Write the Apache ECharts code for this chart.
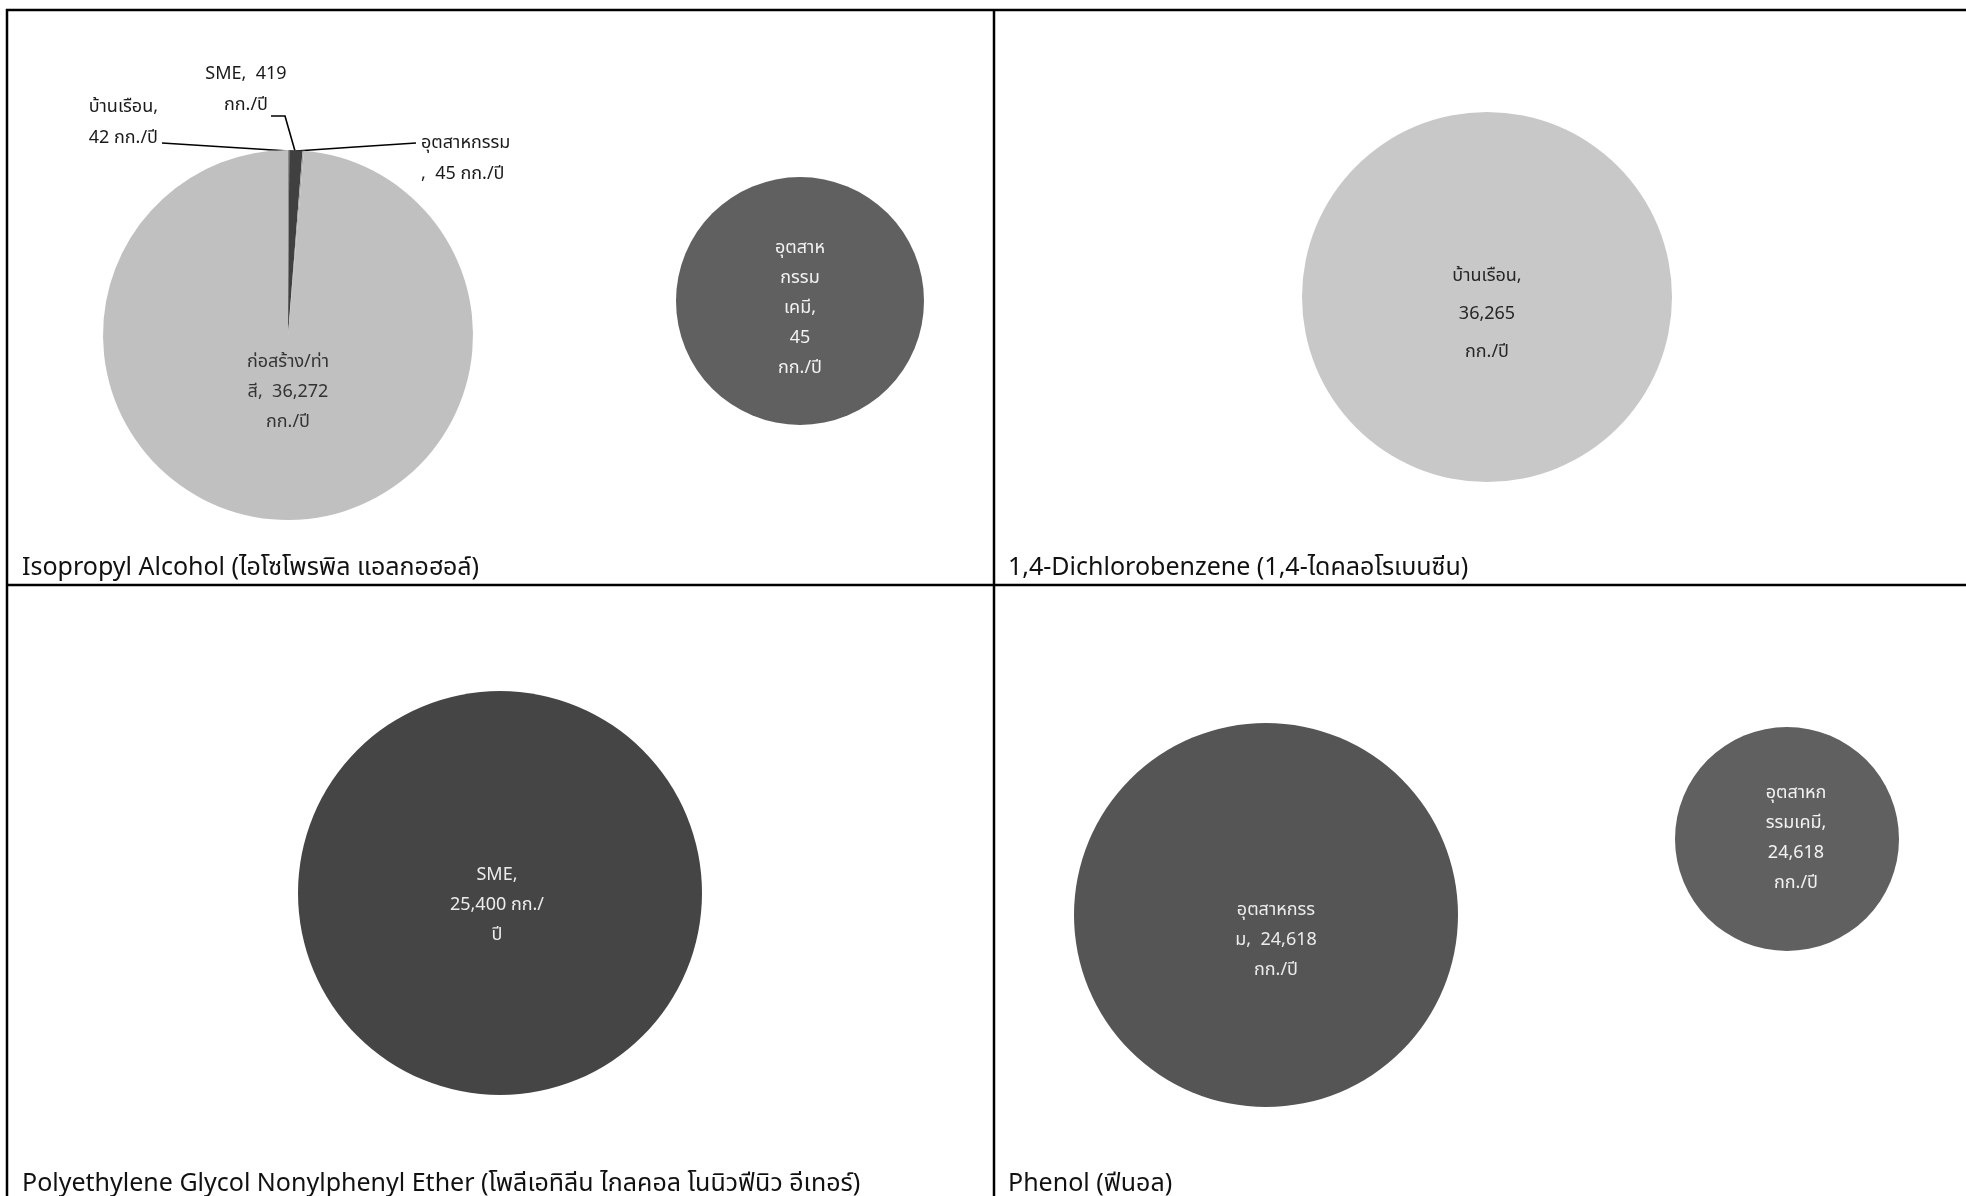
<!DOCTYPE html>
<html>
<head>
<meta charset="utf-8">
<script src="https://cdn.jsdelivr.net/npm/echarts@6/dist/echarts.min.js"></script>
<style>
html,body{margin:0;padding:0;background:#fff;}
#chart{width:1966px;height:1196px;}
</style>
</head>
<body>
<div id="chart"></div>
<script>
// ---- data ----
const panelTitles = [
  'Isopropyl Alcohol (ไอโซโพรพิล แอลกอฮอล์)',
  '1,4-Dichlorobenzene (1,4-ไดคลอโรเบนซีน)',
  'Polyethylene Glycol Nonylphenyl Ether (โพลีเอทิลีน ไกลคอล โนนิวฟีนิว อีเทอร์)',
  'Phenol (ฟีนอล)'
];
const ipaCategories = ['บ้านเรือน', 'SME', 'อุตสาหกรรม', 'ก่อสร้าง/ท่าสี'];
const ipaValues = [42, 419, 45, 36272];
const ipaChemCategories = ['อุตสาหกรรมเคมี'];
const ipaChemValues = [45];
const dcbCategories = ['บ้านเรือน'];
const dcbValues = [36265];
const pegCategories = ['SME'];
const pegValues = [25400];
const phenolCategories = ['อุตสาหกรรม'];
const phenolValues = [24618];
const phenolChemCategories = ['อุตสาหกรรมเคมี'];
const phenolChemValues = [24618];
const unit = 'กก./ปี';

// ---- helpers ----
const FONT = '"Noto Sans Thai", "Noto Sans", Loma, Garuda, "Tlwg Typo", Sarabun, "DejaVu Sans", sans-serif';
const fmt = v => v.toLocaleString('en-US');
const pieBase = {
  type: 'pie', silent: true, animation: false, avoidLabelOverlap: false,
  emphasis: { disabled: true }, itemStyle: { borderWidth: 0 },
  labelLine: { show: false }
};

const ipaColors = ['#8c8c8c', '#404040', '#a6a6a6', '#c0c0c0'];
const ipaFormatters = [
  p => p.name + ',\n' + fmt(p.value) + ' ' + unit,
  p => p.name + ',  ' + fmt(p.value) + '\n' + unit,
  p => p.name + '\n,  ' + fmt(p.value) + ' ' + unit,
  p => p.name.slice(0, 12) + '\n' + p.name.slice(12) + ',  ' + fmt(p.value) + '\n' + unit
];
// label anchors for the first pie (layout only)
const ipaLabelLayout = [
  { x: 158, y: 124, align: 'right', pts: [[289, 151], [225, 147], [162, 143]] },
  { x: 246, y: 91, align: 'center', pts: [[295, 151], [285, 116], [271, 116]] },
  { x: 421, y: 160, align: 'left', pts: [[296, 151], [355, 147], [416, 143]] },
  { x: 288, y: 393, align: 'center', pts: null }
];

const option = {
  backgroundColor: '#fff',
  textStyle: { fontFamily: FONT },
  title: panelTitles.map((t, i) => ({
    text: t,
    left: i % 2 === 0 ? 22 : 1008,
    top: i < 2 ? 557 : 1173,
    padding: 0,
    textStyle: { fontSize: 25, fontWeight: 'normal', color: '#111', fontFamily: FONT }
  })),
  graphic: [
    { type: 'line', shape: { x1: 6, y1: 10, x2: 1966, y2: 10 }, style: { stroke: '#000', lineWidth: 2.5 } },
    { type: 'line', shape: { x1: 7, y1: 9, x2: 7, y2: 1196 }, style: { stroke: '#000', lineWidth: 2.5 } },
    { type: 'line', shape: { x1: 994, y1: 9, x2: 994, y2: 1196 }, style: { stroke: '#000', lineWidth: 2.5 } },
    { type: 'line', shape: { x1: 6, y1: 585, x2: 1966, y2: 585 }, style: { stroke: '#000', lineWidth: 2.5 } }
  ],
  series: [
    Object.assign({}, pieBase, {
      id: 'ipa', center: [288, 335], radius: 185, startAngle: 90, clockwise: true,
      minShowLabelAngle: 0,
      labelLine: { show: true, lineStyle: { color: '#000', width: 1.6 } },
      labelLayout: function (params) {
        const l = ipaLabelLayout[params.dataIndex];
        const r = { x: l.x, y: l.y, align: l.align, verticalAlign: 'middle', hideOverlap: false, moveOverlap: null };
        if (l.pts) r.labelLinePoints = l.pts;
        return r;
      },
      data: ipaCategories.map((c, i) => ({
        name: c, value: ipaValues[i],
        itemStyle: { color: ipaColors[i] },
        labelLine: { show: i < 3 },
        label: {
          show: true, position: i < 3 ? 'outside' : 'inside',
          formatter: ipaFormatters[i], fontSize: 18, lineHeight: i < 3 ? 31 : 30,
          color: i < 3 ? '#1a1a1a' : '#333', fontFamily: FONT
        }
      }))
    }),
    Object.assign({}, pieBase, {
      center: [800, 301], radius: 124,
      data: ipaChemCategories.map((c, i) => ({
        name: c, value: ipaChemValues[i], itemStyle: { color: '#606060' },
        label: {
          show: true, position: 'center', fontSize: 18, lineHeight: 30, color: '#f2f2f2', fontFamily: FONT, offset: [0, 8],
          formatter: p => p.name.slice(0, 6) + '\n' + p.name.slice(6, 10) + '\n' + p.name.slice(10) + ',\n' + fmt(p.value) + '\n' + unit
        }
      }))
    }),
    Object.assign({}, pieBase, {
      center: [1487, 297], radius: 185,
      data: dcbCategories.map((c, i) => ({
        name: c, value: dcbValues[i], itemStyle: { color: '#c8c8c8' },
        label: {
          show: true, position: 'center', fontSize: 18, lineHeight: 38, color: '#262626', fontFamily: FONT, offset: [0, 18],
          formatter: p => p.name + ',\n' + fmt(p.value) + '\n' + unit
        }
      }))
    }),
    Object.assign({}, pieBase, {
      center: [500, 893], radius: 202,
      data: pegCategories.map((c, i) => ({
        name: c, value: pegValues[i], itemStyle: { color: '#454545' },
        label: {
          show: true, position: 'center', fontSize: 18, lineHeight: 30, color: '#ececec', fontFamily: FONT, offset: [-3, 13],
          formatter: p => p.name + ',\n' + fmt(p.value) + ' กก./\nปี'
        }
      }))
    }),
    Object.assign({}, pieBase, {
      center: [1266, 915], radius: 192,
      data: phenolCategories.map((c, i) => ({
        name: c, value: phenolValues[i], itemStyle: { color: '#555555' },
        label: {
          show: true, position: 'center', fontSize: 18, lineHeight: 30, color: '#ececec', fontFamily: FONT, offset: [10, 26],
          formatter: p => p.name.slice(0, 9) + '\n' + p.name.slice(9) + ',  ' + fmt(p.value) + '\n' + unit
        }
      }))
    }),
    Object.assign({}, pieBase, {
      center: [1787, 839], radius: 112,
      data: phenolChemCategories.map((c, i) => ({
        name: c, value: phenolChemValues[i], itemStyle: { color: '#606060' },
        label: {
          show: true, position: 'center', fontSize: 18, lineHeight: 30, color: '#f2f2f2', fontFamily: FONT, offset: [9, 0],
          formatter: p => p.name.slice(0, 7) + '\n' + p.name.slice(7) + ',\n' + fmt(p.value) + '\n' + unit
        }
      }))
    })
  ]
};

const chart = echarts.init(document.getElementById('chart'), null, { renderer: 'canvas' });
chart.setOption(option);
</script>
</body>
</html>
